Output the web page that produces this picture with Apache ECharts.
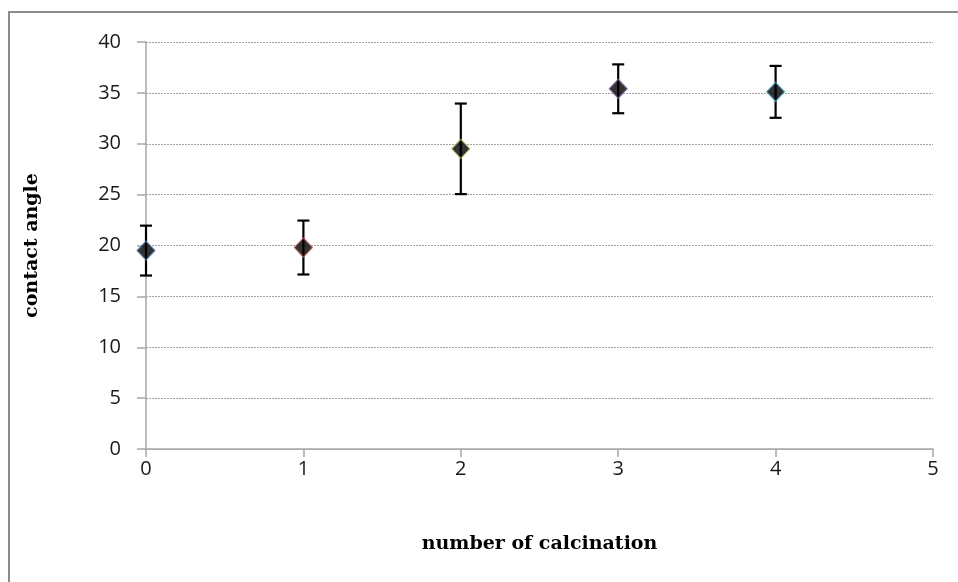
<!DOCTYPE html>
<html>
<head>
<meta charset="utf-8">
<script src="https://cdn.jsdelivr.net/npm/echarts@6/dist/echarts.min.js"></script>
<style>
  html, body { margin: 0; padding: 0; background: #fff; }
  #chart { width: 958px; height: 582px; }
</style>
</head>
<body>
<div id="chart"></div>
<script>
// Contact angle measured after each calcination, with standard-deviation bars
var calcinations = [0, 1, 2, 3, 4];
var angleMeans = [19.5, 19.8, 29.5, 35.4, 35.1];
var angleErrors = [2.45, 2.65, 4.45, 2.4, 2.55];
var markerEdges = ['#4f81bd', '#c0504d', '#9bbb59', '#8064a2', '#4bacc6'];
var xTicks = [0, 1, 2, 3, 4, 5];
var yTicks = [0, 5, 10, 15, 20, 25, 30, 35, 40];

var chart = echarts.init(document.getElementById('chart'), null, { renderer: 'canvas' });

var points = calcinations.map(function (x, i) {
  return {
    value: [x, angleMeans[i]],
    itemStyle: { color: '#000', borderColor: markerEdges[i], borderWidth: 1.2 }
  };
});

var bars = calcinations.map(function (x, i) {
  return [x, angleMeans[i] - angleErrors[i], angleMeans[i] + angleErrors[i]];
});

var tickFont = { fontFamily: '"Open Sans", Lato, sans-serif', fontSize: 20, color: '#1a1a1a' };
var titleFont = { fontFamily: '"DejaVu Serif", serif', fontWeight: 'bold', fontSize: 19, color: '#000' };

chart.setOption({
  animation: false,
  backgroundColor: '#fff',
  grid: { left: 146, right: 25, top: 42, bottom: 133, containLabel: false },
  graphic: [{
    type: 'rect',
    shape: { x: 9, y: 12, width: 1000, height: 700 },
    style: { fill: 'none', stroke: '#8c8c8c', lineWidth: 2 },
    silent: true, z: -1
  }],
  xAxis: {
    type: 'value',
    min: xTicks[0], max: xTicks[xTicks.length - 1], interval: 1,
    name: 'number of calcination',
    nameLocation: 'middle', nameGap: 86,
    nameTextStyle: titleFont,
    axisLine: { show: true, onZero: false, lineStyle: { color: '#a6a6a6', width: 1.5 } },
    axisTick: { show: true, length: 8, lineStyle: { color: '#a6a6a6', width: 1.5 } },
    axisLabel: Object.assign({ margin: 10 }, tickFont),
    splitLine: { show: false }
  },
  yAxis: {
    type: 'value',
    min: yTicks[0], max: yTicks[yTicks.length - 1], interval: 5,
    name: 'contact angle',
    nameLocation: 'middle', nameGap: 104, nameRotate: 90,
    nameTextStyle: titleFont,
    axisLine: { show: true, lineStyle: { color: '#a6a6a6', width: 1.5 } },
    axisTick: { show: true, length: 9, lineStyle: { color: '#a6a6a6', width: 1.5 } },
    axisLabel: Object.assign({ margin: 25 }, tickFont),
    splitLine: { show: true, lineStyle: { color: '#a0a0a0', type: [2, 1], width: 1 } }
  },
  series: [
    {
      type: 'custom',
      z: 2,
      silent: true,
      data: bars,
      renderItem: function (params, api) {
        var x = api.value(0);
        var lo = api.coord([x, api.value(1)]);
        var hi = api.coord([x, api.value(2)]);
        var half = 6;
        var style = { stroke: '#000', lineWidth: 2.2 };
        return {
          type: 'group',
          children: [
            { type: 'line', shape: { x1: lo[0], y1: lo[1], x2: hi[0], y2: hi[1] }, style: style },
            { type: 'line', shape: { x1: lo[0] - half, y1: lo[1], x2: lo[0] + half, y2: lo[1] }, style: style },
            { type: 'line', shape: { x1: hi[0] - half, y1: hi[1], x2: hi[0] + half, y2: hi[1] }, style: style }
          ]
        };
      }
    },
    {
      type: 'scatter',
      z: 3,
      symbol: 'diamond',
      symbolSize: [18, 19],
      data: points
    }
  ]
});
</script>
</body>
</html>
